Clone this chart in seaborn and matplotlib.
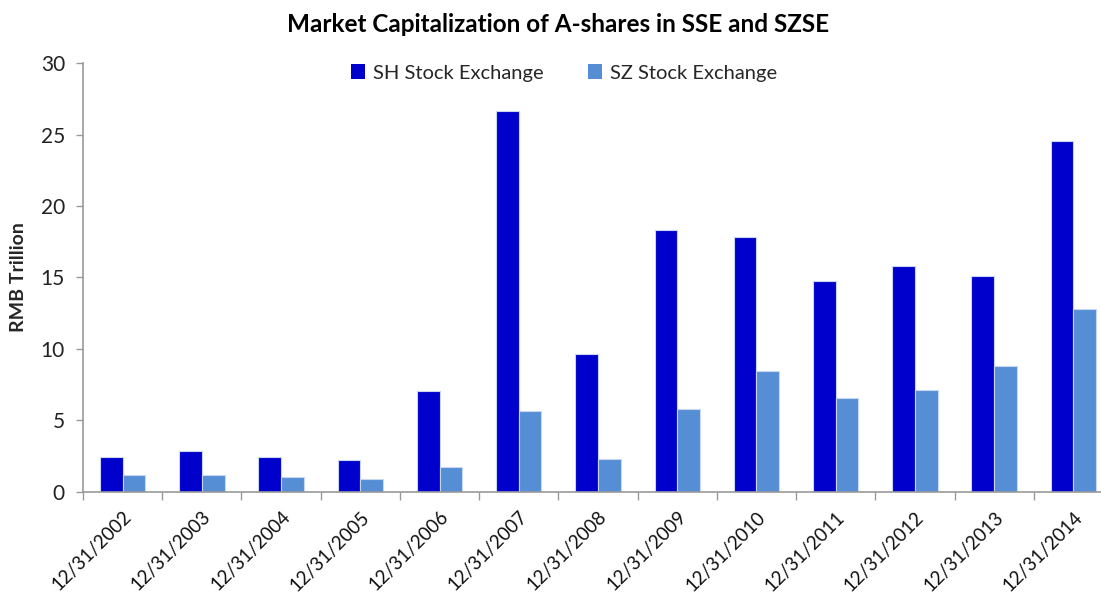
import matplotlib
matplotlib.use("Agg")
import matplotlib.pyplot as plt
import seaborn as sns
import pandas as pd
import numpy as np

dates = ["12/31/2002", "12/31/2003", "12/31/2004", "12/31/2005", "12/31/2006",
         "12/31/2007", "12/31/2008", "12/31/2009", "12/31/2010", "12/31/2011",
         "12/31/2012", "12/31/2013", "12/31/2014"]
sh_values = [2.40, 2.86, 2.44, 2.21, 7.06, 26.67, 9.63, 18.33, 17.82, 14.76, 15.79, 15.11, 24.55]
sz_values = [1.18, 1.13, 1.02, 0.85, 1.69, 5.62, 2.28, 5.78, 8.42, 6.55, 7.11, 8.79, 12.80]
series_names = ["SH Stock Exchange", "SZ Stock Exchange"]
y_ticks = [0, 5, 10, 15, 20, 25, 30]

df = pd.DataFrame({
    "date": dates * 2,
    "value": sh_values + sz_values,
    "series": [series_names[0]] * len(dates) + [series_names[1]] * len(dates),
})

sns.set_theme(style="white")
plt.rcParams["font.family"] = ["Lato", "DejaVu Sans"]

fig = plt.figure(figsize=(11.01, 5.97), dpi=100)
ax_left = 83 / 1101
ax_w = (1113 - 83) / 1101
ax = fig.add_axes([ax_left, 1 - 491.5 / 597, ax_w, (491.5 - 63.3) / 597])

sns.barplot(data=df, x="date", y="value", hue="series", order=dates,
            hue_order=series_names, palette=["#0000CC", "#558ED5"],
            saturation=1, width=0.572, gap=0, edgecolor="#C9D6F0", linewidth=0.8,
            ax=ax, legend=True)

ax.set_xlim(-0.5, len(dates) - 0.5)
ax.set_ylim(0, 30)
ax.set_yticks(y_ticks)
ax.set_yticklabels([str(v) for v in y_ticks], fontsize=15, color="#222222")
ax.tick_params(axis="y", length=5, width=1, color="#999999", left=True, pad=8)

ax.set_xticks(np.arange(len(dates)))
ax.set_xticklabels(dates, rotation=45, ha="right", rotation_mode="anchor",
                   fontsize=13.5, color="#111111")
ax.tick_params(axis="x", which="major", length=0, pad=12)
ax.set_xticks(np.arange(len(dates) + 1) - 0.5, minor=True)
ax.tick_params(axis="x", which="minor", length=6, width=1, color="#999999", bottom=True)
for lbl in ax.get_xticklabels():
    lbl.set_va("top")
    lbl.set_ha("right")

for s in ["top", "right"]:
    ax.spines[s].set_visible(False)
for s in ["left", "bottom"]:
    ax.spines[s].set_color("#999999")
    ax.spines[s].set_linewidth(1.2)

ax.set_xlabel("")
ax.set_ylabel("RMB Trillion", fontsize=14, fontweight="bold", labelpad=10)

leg_cx = (564 / 1101 - ax_left) / ax_w
leg_cy = 1 - (73 - 63.3) / (491.5 - 63.3)
leg = ax.legend(loc="center", bbox_to_anchor=(leg_cx, leg_cy),
                ncol=2, frameon=False, fontsize=14.5, handlelength=0.7,
                handleheight=0.7, handletextpad=0.4, columnspacing=2.2)
for h in leg.legend_handles:
    h.set_edgecolor("none")

fig.text(558 / 1101, 1 - 25 / 597, "Market Capitalization of A-shares in SSE and SZSE",
         ha="center", va="center", fontsize=17.5, fontweight="bold", color="#000000")

fig.savefig("out.png", dpi=100)
